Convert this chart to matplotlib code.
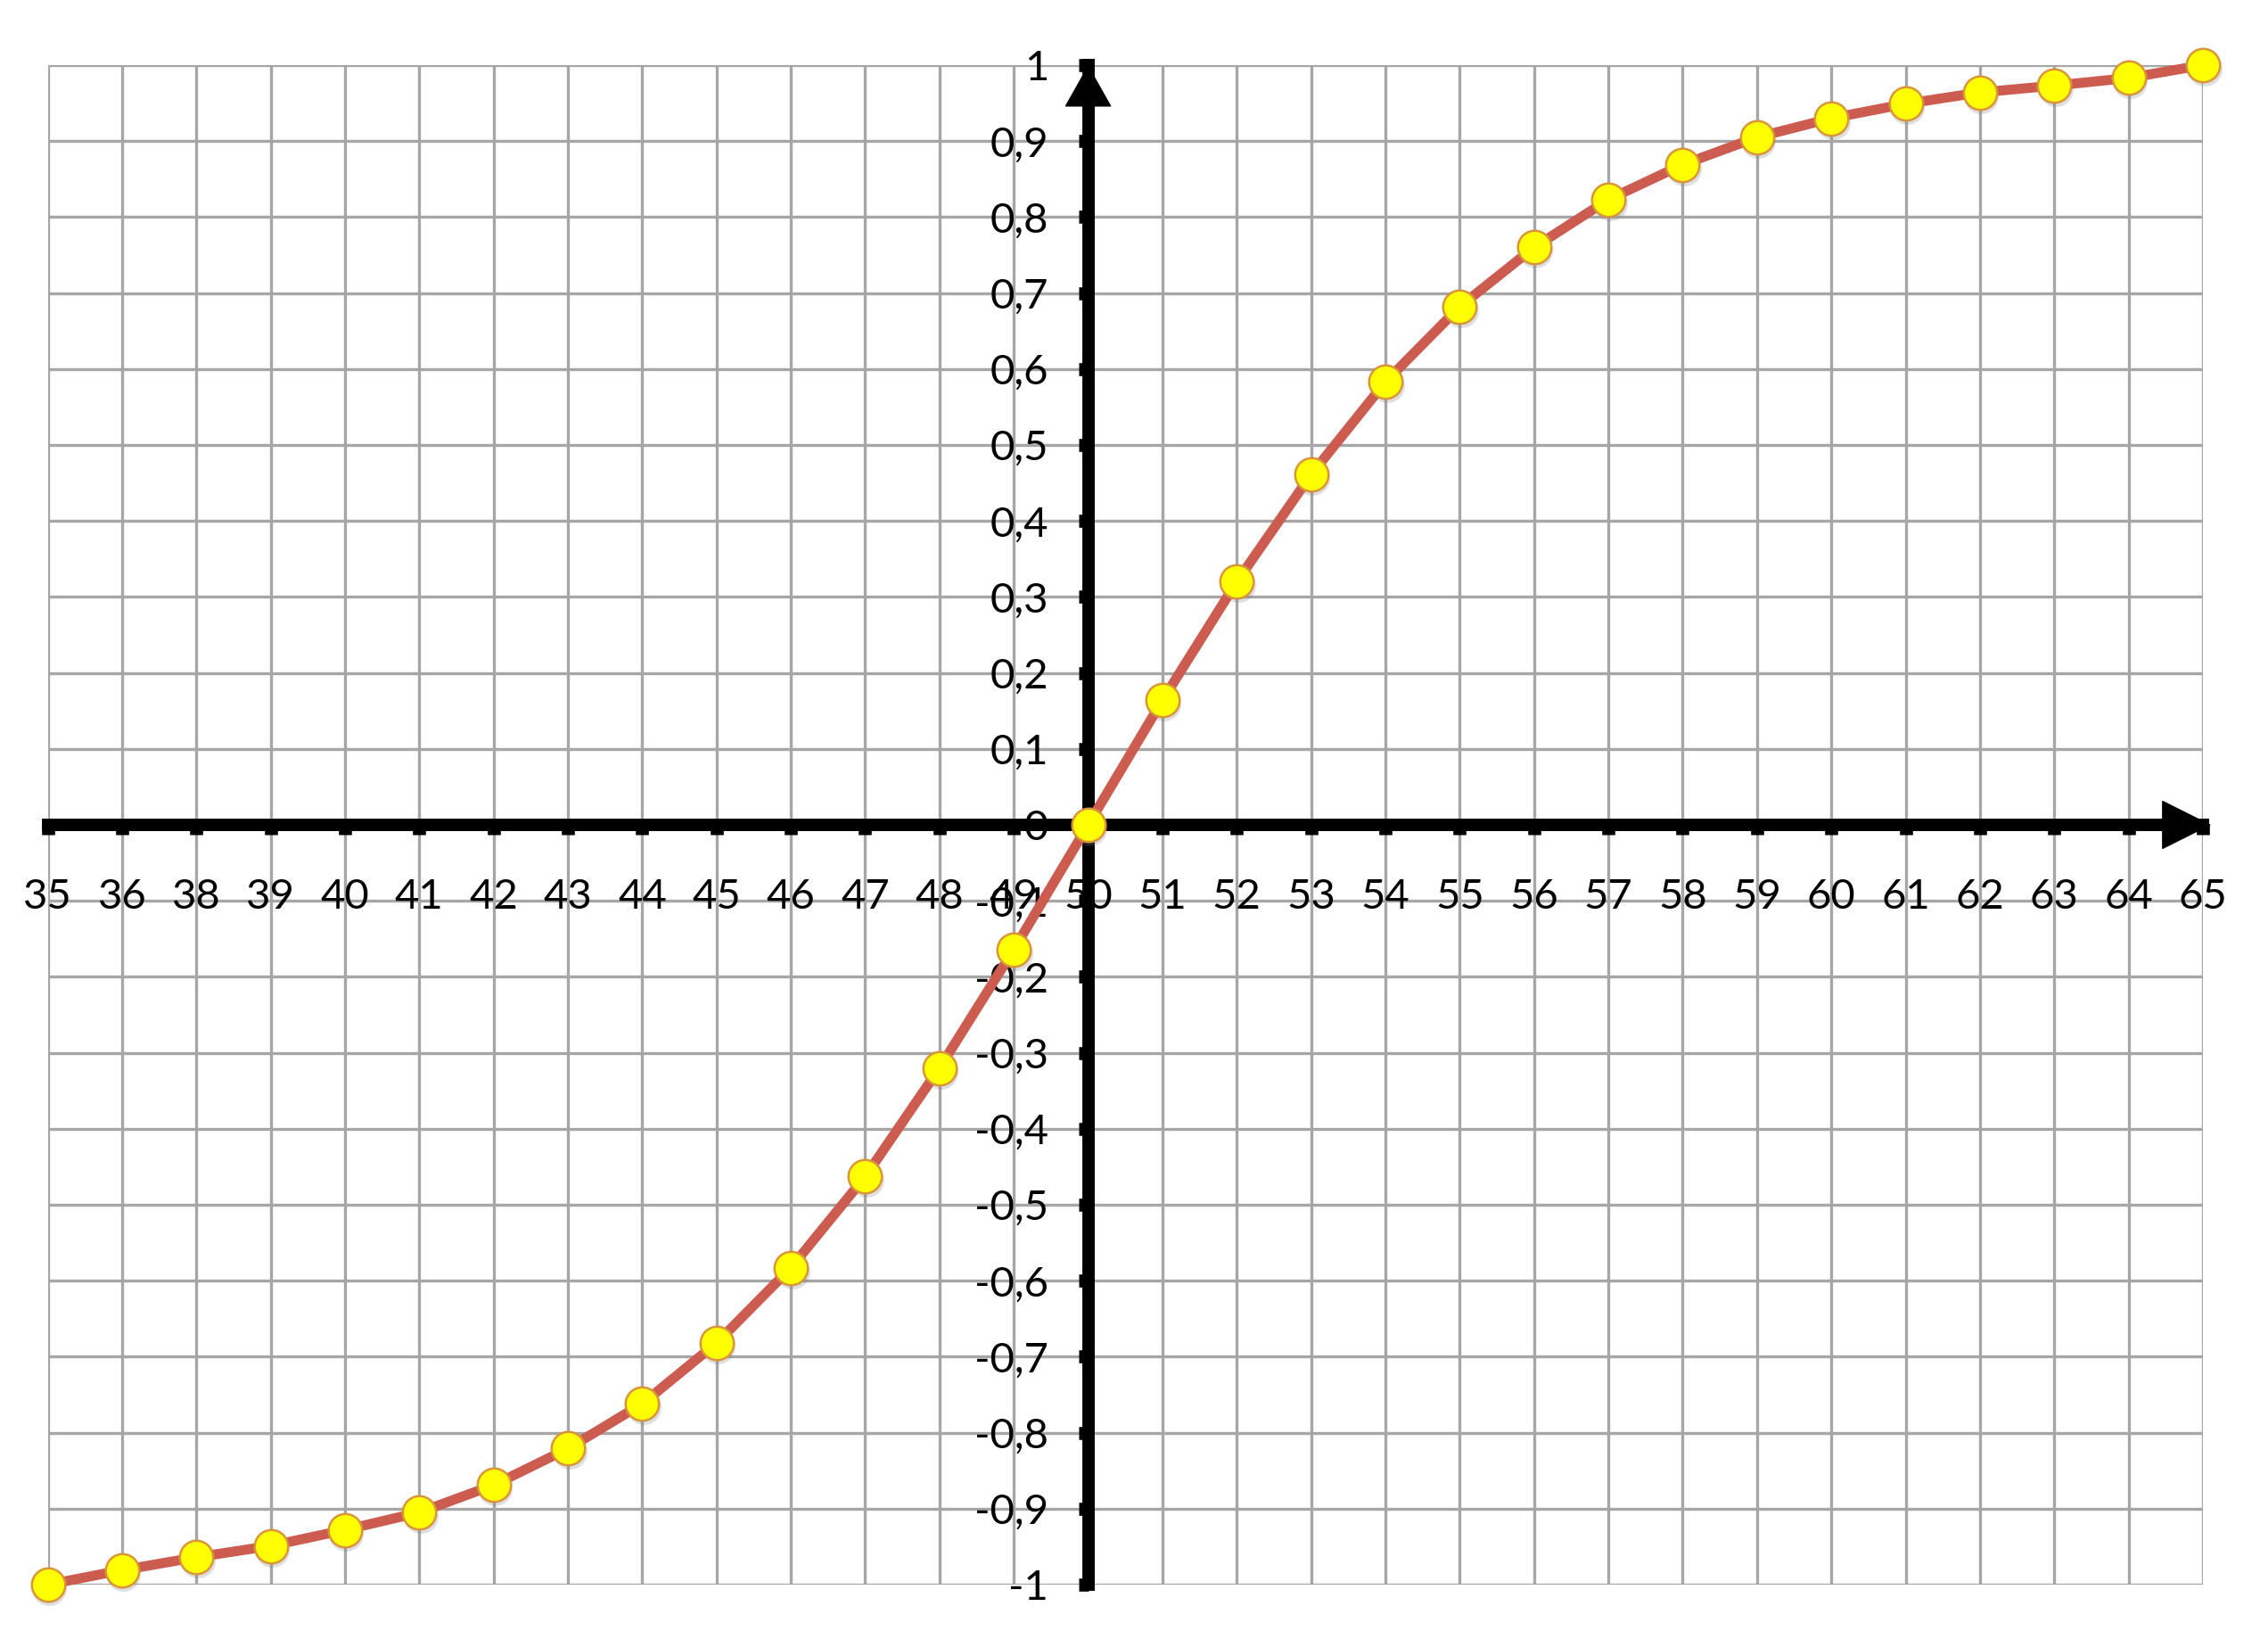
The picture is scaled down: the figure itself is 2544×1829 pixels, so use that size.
import matplotlib
matplotlib.use("Agg")
import matplotlib.pyplot as plt
import matplotlib.transforms as mtransforms
import numpy as np

plt.rcParams['font.family'] = ['Lato', 'DejaVu Sans']

categories = ["35", "36", "38", "39", "40", "41", "42", "43", "44", "45",
              "46", "47", "48", "49", "50", "51", "52", "53", "54", "55",
              "56", "57", "58", "59", "60", "61", "62", "63", "64", "65"]
values = [-1.0, -0.981, -0.964, -0.949, -0.928, -0.905, -0.869, -0.821, -0.762, -0.682,
          -0.583, -0.463, -0.32, -0.164, 0.0, 0.164, 0.32, 0.461, 0.583, 0.682,
          0.76, 0.823, 0.869, 0.905, 0.93, 0.949, 0.964, 0.973, 0.983, 1.0]
y_ticks = [round(-1 + 0.1 * i, 1) for i in range(21)]
y_labels = ["-1", "-0,9", "-0,8", "-0,7", "-0,6", "-0,5", "-0,4", "-0,3", "-0,2", "-0,1",
            "0", "0,1", "0,2", "0,3", "0,4", "0,5", "0,6", "0,7", "0,8", "0,9", "1"]
y_axis_cat = "50"

W, H = 2544, 1829
fig = plt.figure(figsize=(W / 100, H / 100), dpi=100)
ax = fig.add_axes([53.5 / W, 1 - 1777 / H, (2471 - 53.5) / W, (1777 - 73) / H])

xpos = np.arange(len(categories))
ax.set_xlim(xpos[0], xpos[-1])
ax.set_ylim(-1, 1)

# grid
for xp in xpos:
    ax.axvline(xp, color='#a6a6a6', lw=2.4, zorder=1)
for yt in y_ticks:
    ax.axhline(yt, color='#a6a6a6', lw=2.4, zorder=1)

cross = categories.index(y_axis_cat)
for s in ['top', 'right']:
    ax.spines[s].set_visible(False)
ax.spines['left'].set_position(('data', cross))
ax.spines['bottom'].set_position(('data', 0))
for s in ['left', 'bottom']:
    ax.spines[s].set_linewidth(10)
    ax.spines[s].set_color('black')
    ax.spines[s].set_zorder(3)

ax.set_xticks(xpos)
ax.set_xticklabels(categories, fontsize=34)
ax.set_yticks(y_ticks)
ax.set_yticklabels(y_labels, fontsize=34)
ax.tick_params(axis='both', direction='out', length=8, width=10.5, color='black')
ax.tick_params(axis='y', pad=24)
ax.tick_params(axis='x', pad=35)

# arrow heads
ax.annotate('', xy=(cross, 1.0), xytext=(cross, 0.9),
            arrowprops=dict(arrowstyle='-|>,head_length=3.2,head_width=1.8',
                            color='black', lw=1, shrinkA=0, shrinkB=0),
            annotation_clip=False, zorder=4)
ax.annotate('', xy=(xpos[-1] + 0.11, 0), xytext=(xpos[-1] - 1.5, 0),
            arrowprops=dict(arrowstyle='-|>,head_length=3.8,head_width=1.9',
                            color='black', lw=1, shrinkA=0, shrinkB=0),
            annotation_clip=False, zorder=4)

# soft marker shadow
shadow_tr = mtransforms.offset_copy(ax.transData, fig=fig, x=1.5, y=-4, units='dots')
ax.plot(xpos, values, linestyle='none', marker='o', markersize=28,
        markerfacecolor='#808080', markeredgecolor='none', alpha=0.25,
        transform=shadow_tr, zorder=4.5, clip_on=False)

ax.plot(xpos, values, color='#cd5c50', lw=8, zorder=5, clip_on=False,
        marker='o', markersize=27, markerfacecolor='#ffff00',
        markeredgecolor='#d9953a', markeredgewidth=1.8, solid_capstyle='round')

fig.savefig("out.png", dpi=100, facecolor='white')
